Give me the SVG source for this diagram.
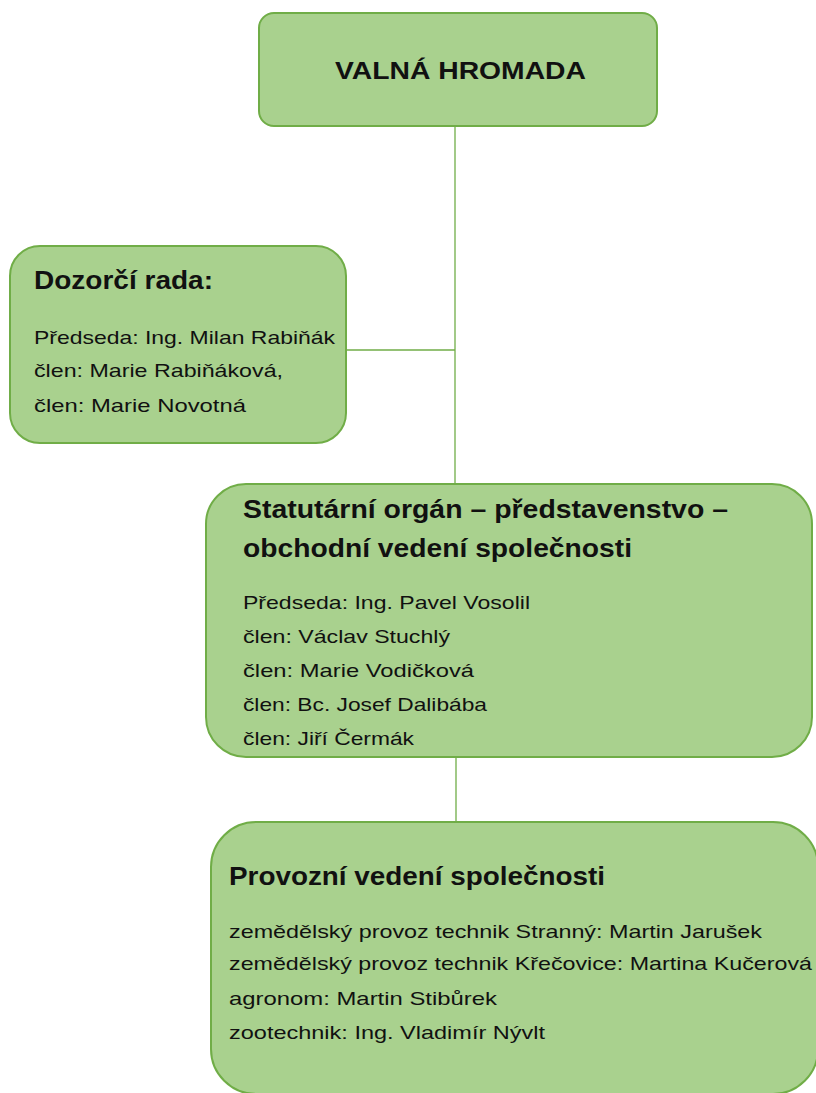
<svg xmlns="http://www.w3.org/2000/svg" width="816" height="1093" viewBox="0 0 816 1093">
<style>
.box{fill:#a9d18e;stroke:#70ad47;stroke-width:2}
.conn{stroke:#70ad47;stroke-width:1.3;fill:none}
text{font-family:"Liberation Sans",Arial,sans-serif;fill:#111}
.t{font-weight:bold;font-size:25px}
.b{font-size:19px}
</style>
<rect width="816" height="1093" fill="#ffffff"/>
<g id="connectors">
<line class="conn" x1="455" y1="126" x2="455" y2="484"/>
<line class="conn" x1="346" y1="350" x2="455" y2="350"/>
<line class="conn" x1="456" y1="757" x2="456" y2="822"/>
</g>
<g id="valna-hromada">
<rect class="box" x="259" y="13" width="398" height="113" rx="15"/>
<text class="t" x="335" y="79" style="font-size:24px" textLength="251" lengthAdjust="spacingAndGlyphs">VALNÁ HROMADA</text>
</g>
<g id="dozorci-rada">
<rect class="box" x="10" y="246" width="336" height="197" rx="30"/>
<text class="t" x="34" y="289" textLength="179" lengthAdjust="spacingAndGlyphs">Dozorčí rada:</text>
<text class="b" x="34" y="344" textLength="301" lengthAdjust="spacingAndGlyphs">Předseda: Ing. Milan Rabiňák</text>
<text class="b" x="34" y="377" textLength="249" lengthAdjust="spacingAndGlyphs">člen: Marie Rabiňáková,</text>
<text class="b" x="34" y="412" textLength="212" lengthAdjust="spacingAndGlyphs">člen: Marie Novotná</text>
</g>
<g id="statutarni-organ">
<rect class="box" x="206" y="484" width="606" height="273" rx="40"/>
<text class="t" x="243" y="518" textLength="485" lengthAdjust="spacingAndGlyphs">Statutární orgán – představenstvo –</text>
<text class="t" x="243" y="557" textLength="389" lengthAdjust="spacingAndGlyphs">obchodní vedení společnosti</text>
<text class="b" x="243" y="609" textLength="287" lengthAdjust="spacingAndGlyphs">Předseda: Ing. Pavel Vosolil</text>
<text class="b" x="243" y="643" textLength="207" lengthAdjust="spacingAndGlyphs">člen: Václav Stuchlý</text>
<text class="b" x="243" y="677" textLength="231" lengthAdjust="spacingAndGlyphs">člen: Marie Vodičková</text>
<text class="b" x="243" y="711" textLength="244" lengthAdjust="spacingAndGlyphs">člen: Bc. Josef Dalibába</text>
<text class="b" x="243" y="745" textLength="171" lengthAdjust="spacingAndGlyphs">člen: Jiří Čermák</text>
</g>
<g id="provozni-vedeni">
<rect class="box" x="211" y="822" width="607" height="272" rx="45"/>
<text class="t" x="229" y="885" textLength="376" lengthAdjust="spacingAndGlyphs">Provozní vedení společnosti</text>
<text class="b" x="229" y="938" textLength="533" lengthAdjust="spacingAndGlyphs">zemědělský provoz technik Stranný: Martin Jarušek</text>
<text class="b" x="229" y="970" textLength="583" lengthAdjust="spacingAndGlyphs">zemědělský provoz technik Křečovice: Martina Kučerová</text>
<text class="b" x="229" y="1005" textLength="268" lengthAdjust="spacingAndGlyphs">agronom: Martin Stibůrek</text>
<text class="b" x="229" y="1039" textLength="316" lengthAdjust="spacingAndGlyphs">zootechnik: Ing. Vladimír Nývlt</text>
</g>
</svg>
